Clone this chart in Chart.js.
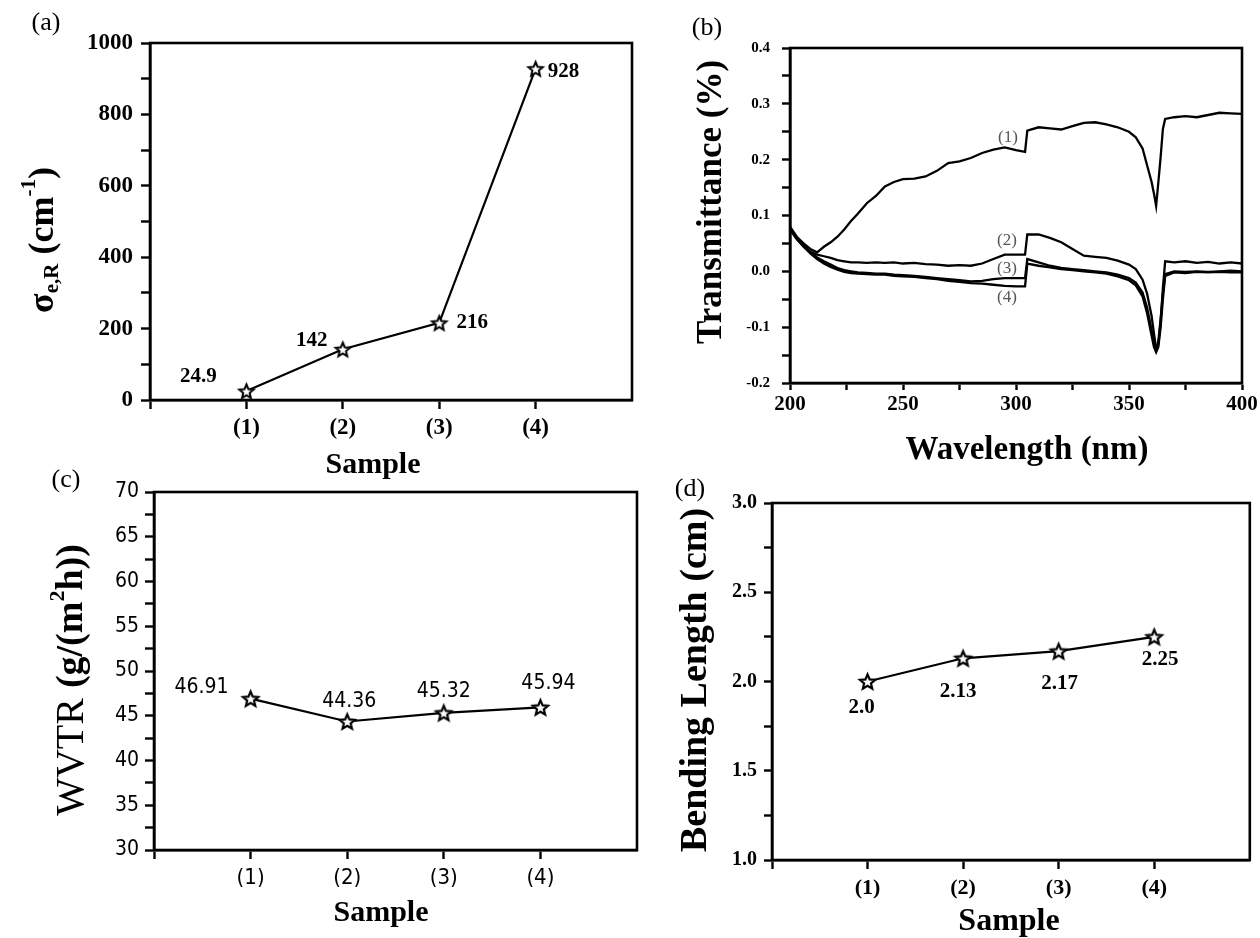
<!DOCTYPE html>
<html><head><meta charset="utf-8">
<script src="https://cdn.jsdelivr.net/npm/chart.js@4.4.1/dist/chart.umd.min.js"></script>
<style>
html,body{margin:0;padding:0;background:#fff;}
#wrap{position:relative;width:1260px;height:938px;overflow:hidden;background:#fff;}
canvas{position:absolute;left:0;top:0;}
</style></head><body><div id="wrap">
<canvas id="ca" width="1260" height="938"></canvas>
<canvas id="cb" width="1260" height="938"></canvas>
<canvas id="cc" width="1260" height="938"></canvas>
<canvas id="cd" width="1260" height="938"></canvas>
</div>
<script>
// ---------- data ----------
const sampleNames = ['(1)', '(2)', '(3)', '(4)'];
const samplePos = [1, 2, 3, 4];

const sigmaValues = [24.9, 142, 216, 928];
const sigmaLabels = ['24.9', '142', '216', '928'];

const wvtrValues = [46.91, 44.36, 45.32, 45.94];
const wvtrLabels = ['46.91', '44.36', '45.32', '45.94'];

const bendValues = [2.0, 2.13, 2.17, 2.25];
const bendLabels = ['2.0', '2.13', '2.17', '2.25'];

const wavelengths = [200,203,206,209,212,215,218,221,224,227,230,234,238,242,246,250,255,260,265,270,275,280,285,290,295,300,304,305,310,315,320,325,330,335,340,345,350,353,356,358,360,361,362,363,364,365,366,370,375,380,385,390,395,400];
const trans1 = [0.080,0.062,0.050,0.040,0.034,0.044,0.052,0.062,0.075,0.090,0.103,0.122,0.135,0.152,0.160,0.165,0.166,0.170,0.180,0.194,0.197,0.203,0.212,0.218,0.222,0.217,0.214,0.252,0.258,0.256,0.254,0.260,0.266,0.267,0.263,0.258,0.250,0.240,0.220,0.190,0.160,0.140,0.117,0.160,0.205,0.255,0.273,0.276,0.278,0.276,0.280,0.284,0.283,0.282];
const trans2 = [0.075,0.058,0.045,0.035,0.030,0.027,0.024,0.020,0.018,0.016,0.016,0.015,0.016,0.015,0.016,0.014,0.015,0.013,0.012,0.010,0.011,0.010,0.014,0.022,0.030,0.030,0.030,0.066,0.066,0.060,0.052,0.040,0.028,0.026,0.024,0.019,0.012,0.004,-0.015,-0.040,-0.080,-0.110,-0.138,-0.130,-0.090,-0.030,0.018,0.016,0.018,0.015,0.017,0.014,0.016,0.014];
const trans3 = [0.078,0.060,0.046,0.034,0.025,0.018,0.012,0.006,0.002,0.000,-0.002,-0.003,-0.004,-0.004,-0.006,-0.007,-0.008,-0.010,-0.012,-0.014,-0.016,-0.018,-0.017,-0.014,-0.012,-0.012,-0.012,0.022,0.016,0.010,0.006,0.004,0.002,0.000,-0.002,-0.006,-0.012,-0.020,-0.038,-0.065,-0.105,-0.125,-0.140,-0.125,-0.085,-0.040,-0.005,0.000,-0.001,0.000,-0.001,0.000,0.001,0.000];
const trans4 = [0.076,0.058,0.044,0.032,0.022,0.014,0.008,0.003,-0.001,-0.003,-0.004,-0.005,-0.006,-0.006,-0.008,-0.009,-0.010,-0.012,-0.014,-0.017,-0.019,-0.021,-0.022,-0.024,-0.026,-0.027,-0.027,0.014,0.010,0.007,0.004,0.002,0.000,-0.002,-0.004,-0.009,-0.016,-0.025,-0.045,-0.075,-0.115,-0.135,-0.145,-0.135,-0.100,-0.050,-0.008,-0.002,-0.003,-0.001,-0.002,-0.001,-0.002,-0.002];
const transNames = ['(1)', '(2)', '(3)', '(4)'];

// ---------- helpers ----------
const SERIF = '"Liberation Serif", "Times New Roman", serif';
const NARROW = '"Liberation Sans Narrow", "DejaVu Sans Condensed", "Liberation Sans", sans-serif';

function makeStar(size, lw) {
  const c = document.createElement('canvas');
  c.width = c.height = Math.ceil(size + lw * 2 + 2);
  const g = c.getContext('2d');
  const cx = c.width / 2, cy = c.height / 2 + size * 0.05, R = size / 2, r = R * 0.45;
  g.beginPath();
  for (let i = 0; i < 10; i++) {
    const a = -Math.PI / 2 + i * Math.PI / 5, rr = i % 2 ? r : R;
    g.lineTo(cx + rr * Math.cos(a), cy + rr * Math.sin(a));
  }
  g.closePath();
  g.fillStyle = '#fff'; g.fill();
  g.lineWidth = lw; g.strokeStyle = '#000'; g.lineJoin = 'miter'; g.stroke();
  return c;
}

function xy(xs, ys) { return xs.map((x, i) => ({ x: x, y: ys[i] })); }

function drawRich(ctx, parts, cx, cy, rot) {
  ctx.save();
  ctx.translate(cx, cy);
  if (rot) ctx.rotate(rot);
  ctx.textBaseline = 'middle';
  ctx.fillStyle = '#000';
  let w = 0;
  parts.forEach(p => { ctx.font = p.font; w += ctx.measureText(p.t).width; });
  let x = -w / 2;
  parts.forEach(p => {
    ctx.font = p.font; ctx.textAlign = 'left';
    ctx.fillText(p.t, x, p.dy || 0);
    x += ctx.measureText(p.t).width;
  });
  ctx.restore();
}

const framePlugin = {
  id: 'frame',
  afterDraw(chart) {
    const a = chart.chartArea, ctx = chart.ctx;
    ctx.save(); ctx.lineWidth = 2.6; ctx.strokeStyle = '#000';
    ctx.strokeRect(a.left, a.top, a.right - a.left, a.bottom - a.top);
    ctx.restore();
  }
};

const textPlugin = {
  id: 'texts',
  afterDraw(chart, args, opts) {
    const ctx = chart.ctx;
    (opts.rich || []).forEach(r => drawRich(ctx, r.parts, r.x, r.y, r.rot));
    (opts.pointLabels || []).forEach(pl => {
      const meta = chart.getDatasetMeta(pl.ds);
      ctx.save(); ctx.font = pl.font; ctx.fillStyle = '#000';
      ctx.textAlign = 'center'; ctx.textBaseline = 'middle';
      pl.texts.forEach((t, i) => {
        const el = meta.data[i];
        ctx.fillText(t, el.x + pl.off[i][0], el.y + pl.off[i][1]);
      });
      ctx.restore();
    });
    (opts.notes || []).forEach(n => {
      ctx.save(); ctx.font = n.font; ctx.fillStyle = n.color || '#000';
      ctx.textAlign = 'center'; ctx.textBaseline = 'middle';
      ctx.fillText(n.t, n.x, n.y); ctx.restore();
    });
  }
};

function axis(o) {
  return {
    type: 'linear', min: o.min, max: o.max,
    ticks: {
      stepSize: o.step, autoSkip: false, maxRotation: 0, minRotation: 0,
      color: '#000', font: o.font, padding: o.pad, callback: o.cb
    },
    grid: {
      display: true, drawOnChartArea: false, drawTicks: true,
      tickLength: o.tl || 9, tickWidth: 2.4,
      tickColor: o.tickColor || '#000'
    },
    border: { display: true, width: 2.6, color: '#000' },
    afterFit(s) {
      if (o.horiz) { s.height = o.size; s.paddingLeft = 0; s.paddingRight = 0; }
      else { s.width = o.size; s.paddingTop = 0; s.paddingBottom = 0; }
    }
  };
}

function makeChart(id, area, xAx, yAx, datasets, textOpts) {
  const YW = 90, XH = 60;
  xAx.size = XH; xAx.horiz = true; yAx.size = YW;
  return new Chart(document.getElementById(id), {
    type: 'line',
    data: { datasets: datasets },
    options: {
      responsive: false, animation: false, events: [],
      layout: { padding: { left: area.L - YW, top: area.T, right: 1260 - area.R, bottom: 938 - area.B - XH } },
      plugins: { legend: { display: false }, tooltip: { enabled: false }, texts: textOpts },
      scales: { x: axis(xAx), y: axis(yAx) }
    },
    plugins: [framePlugin, textPlugin]
  });
}

const sampleCb = v => (sampleNames[samplePos.indexOf(v)] || '');
const sampleTickColor = ctx => (ctx.tick && ctx.tick.value === 5 ? 'rgba(0,0,0,0)' : '#000');

function sampleDataset(vals, star) {
  return {
    data: xy(samplePos, vals), borderColor: '#000', borderWidth: 2.2,
    pointStyle: star, pointRadius: 8, tension: 0, fill: false, clip: false
  };
}

// ---------- (a) ----------
makeChart('ca', { L: 150, R: 632, T: 43, B: 400 },
  { min: 0, max: 5, step: 1, font: { family: SERIF, size: 23, weight: 'bold' }, pad: 5, cb: sampleCb, tickColor: sampleTickColor },
  { min: 0, max: 1000, step: 100, font: { family: SERIF, size: 23, weight: 'bold' }, pad: 8,
    cb: v => (v % 200 === 0 ? String(v) : '') },
  [sampleDataset(sigmaValues, makeStar(15, 2))],
  {
    rich: [
      { x: 46, y: 23, parts: [{ t: '(a)', font: '26px ' + SERIF }] },
      { x: 373, y: 465, parts: [{ t: 'Sample', font: 'bold 30px ' + SERIF }] },
      { x: 44, y: 240, rot: -Math.PI / 2, parts: [
        { t: 'σ', font: 'bold 36px ' + SERIF },
        { t: 'e,R', font: 'bold 21px ' + SERIF, dy: 9 },
        { t: ' (cm', font: 'bold 36px ' + SERIF },
        { t: '-1', font: 'bold 21px ' + SERIF, dy: -14 },
        { t: ')', font: 'bold 36px ' + SERIF }
      ] }
    ],
    pointLabels: [{ ds: 0, texts: sigmaLabels, font: 'bold 21px ' + SERIF,
      off: [[-48, -15], [-31, -9], [33, 0], [28, 3]] }]
  });

// ---------- (b) ----------
const transSets = [trans1, trans2, trans3, trans4].map(arr => ({
  data: xy(wavelengths, arr), borderColor: '#000', borderWidth: 2.3,
  pointRadius: 0, tension: 0, fill: false
}));
makeChart('cb', { L: 790, R: 1242, T: 48, B: 383 },
  { min: 200, max: 400, step: 25, font: { family: SERIF, size: 21, weight: 'bold' }, pad: 2, tl: 7,
    cb: v => (v % 50 === 0 ? String(v) : '') },
  { min: -0.2, max: 0.4, step: 0.05, font: { family: SERIF, size: 15, weight: 'bold' }, pad: 12, tl: 8,
    cb: v => { const k = Math.round(v * 100); return k % 10 === 0 ? (k / 100).toFixed(1) : ''; } },
  transSets,
  {
    rich: [
      { x: 707, y: 28, parts: [{ t: '(b)', font: '26px ' + SERIF }] },
      { x: 1027, y: 450, parts: [{ t: 'Wavelength (nm)', font: 'bold 33px ' + SERIF }] },
      { x: 712, y: 202, rot: -Math.PI / 2, parts: [{ t: 'Transmittance (%)', font: 'bold 35px ' + SERIF }] }
    ],
    notes: [
      { t: transNames[0], x: 1008, y: 138, font: '17px ' + SERIF, color: '#555' },
      { t: transNames[1], x: 1007, y: 241, font: '17px ' + SERIF, color: '#555' },
      { t: transNames[2], x: 1007, y: 269, font: '17px ' + SERIF, color: '#555' },
      { t: transNames[3], x: 1007, y: 298, font: '17px ' + SERIF, color: '#555' }
    ]
  });

// ---------- (c) ----------
makeChart('cc', { L: 154, R: 637, T: 492, B: 850 },
  { min: 0, max: 5, step: 1, font: { family: NARROW, size: 22 }, pad: 6, cb: sampleCb, tickColor: sampleTickColor },
  { min: 30, max: 70, step: 2.5, font: { family: NARROW, size: 21 }, pad: 6,
    cb: v => (v % 5 === 0 ? String(v) : '') },
  [sampleDataset(wvtrValues, makeStar(16, 2.2))],
  {
    rich: [
      { x: 66, y: 480, parts: [{ t: '(c)', font: '26px ' + SERIF }] },
      { x: 381, y: 913, parts: [{ t: 'Sample', font: 'bold 30px ' + SERIF }] },
      { x: 72, y: 680, rot: -Math.PI / 2, parts: [
        { t: 'WVTR ', font: '40px ' + SERIF },
        { t: '(g/(m', font: 'bold 38px ' + SERIF },
        { t: '2', font: 'bold 22px ' + SERIF, dy: -14 },
        { t: 'h))', font: 'bold 38px ' + SERIF }
      ] }
    ],
    pointLabels: [{ ds: 0, texts: wvtrLabels, font: '21px ' + NARROW,
      off: [[-49, -11], [2, -20], [0, -21], [8, -24]] }]
  });

// ---------- (d) ----------
makeChart('cd', { L: 772, R: 1254, T: 503, B: 860 },
  { min: 0, max: 5, step: 1, font: { family: SERIF, size: 22, weight: 'bold' }, pad: 6, cb: sampleCb, tickColor: sampleTickColor },
  { min: 1, max: 3, step: 0.25, font: { family: SERIF, size: 20, weight: 'bold' }, pad: 7, tl: 8,
    cb: v => { const k = Math.round(v * 100); return k % 50 === 0 ? (k / 100).toFixed(1) : ''; } },
  [sampleDataset(bendValues, makeStar(16, 2.2))],
  {
    rich: [
      { x: 690, y: 489, parts: [{ t: '(d)', font: '26px ' + SERIF }] },
      { x: 1009, y: 922, parts: [{ t: 'Sample', font: 'bold 32px ' + SERIF }] },
      { x: 696, y: 680, rot: -Math.PI / 2, parts: [{ t: 'Bending Length (cm)', font: 'bold 38px ' + SERIF }] }
    ],
    pointLabels: [{ ds: 0, texts: bendLabels, font: 'bold 21px ' + SERIF,
      off: [[-6, 26], [-5, 33], [1, 32], [6, 23]] }]
  });
</script>
</body></html>
